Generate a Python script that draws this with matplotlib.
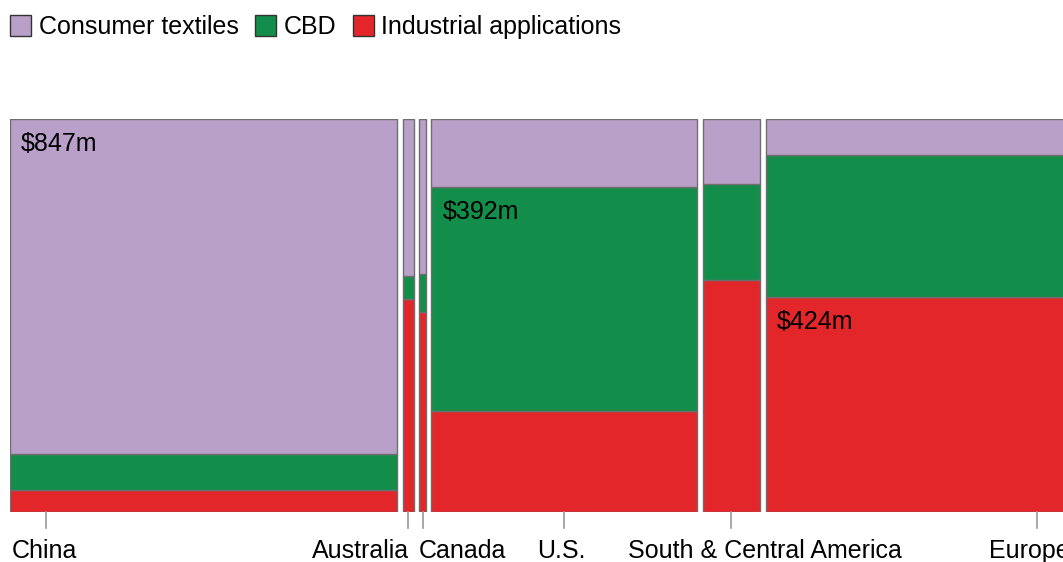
import matplotlib
matplotlib.use("Agg")
import matplotlib.pyplot as plt
from matplotlib.patches import Patch
import matplotlib.transforms as mtransforms

plt.rcParams['font.family'] = ['Liberation Sans', 'DejaVu Sans']

# ---- data ----
regions = ["China", "Australia", "Canada", "U.S.", "South & Central America", "Europe"]
market_m = [994, 28, 17, 683, 146, 775]            # column widths ($m)
consumer_share = [0.852, 0.400, 0.394, 0.173, 0.165, 0.092]
cbd_share = [0.092, 0.059, 0.097, 0.570, 0.244, 0.361]
industrial_share = [0.056, 0.541, 0.509, 0.257, 0.591, 0.547]
series_names = ["Consumer textiles", "CBD", "Industrial applications"]
value_labels = ["$847m", "$392m", "$424m"]
value_label_region = ["China", "U.S.", "Europe"]
value_label_series = ["Consumer textiles", "CBD", "Industrial applications"]

# ---- style ----
colors = {"Consumer textiles": "#b9a0c8", "CBD": "#128e4a", "Industrial applications": "#e2262a"}
edge = "#6e6e6e"
gap = 14.5
tick_frac = [0.093, 0.5, 0.5, 0.5, 0.5, 0.9]
label_ha = ['left', 'right', 'left', 'center', 'center', 'center']
label_dx_px = [-34, 1, -4, -3, 33, -8]
FS = 18

W, H = 1063, 562
fig = plt.figure(figsize=(W / 100, H / 100), dpi=100)
ax_left, ax_right, ax_top, ax_bot = 10, 1063, 119, 512
ax = fig.add_axes([ax_left / W, 1 - ax_bot / H, (ax_right - ax_left) / W, (ax_bot - ax_top) / H])
px_per_m = 387 / market_m[0]
ax.set_xlim(0, (ax_right - ax_left) / px_per_m)
ax.set_ylim(0, 1)
ax.axis('off')

starts = []
x = 0.0
for w in market_m:
    starts.append(x)
    x += w + gap

series_shares = {"Industrial applications": industrial_share, "CBD": cbd_share, "Consumer textiles": consumer_share}
stack_order = ["Industrial applications", "CBD", "Consumer textiles"]
seg_bottom = {}
bottoms = [0.0] * len(regions)
for s in stack_order:
    vals = series_shares[s]
    ax.bar(starts, vals, width=market_m, bottom=bottoms, align='edge',
           color=colors[s], edgecolor=edge, linewidth=1.0)
    for i in range(len(regions)):
        seg_bottom[(regions[i], s)] = (bottoms[i], bottoms[i] + vals[i])
    bottoms = [b + v for b, v in zip(bottoms, vals)]

# value labels at top-left of segments
for txt, reg, ser in zip(value_labels, value_label_region, value_label_series):
    i = regions.index(reg)
    top = seg_bottom[(reg, ser)][1]
    tr = mtransforms.offset_copy(ax.transData, fig=fig, x=11 * 0.72, y=-25 * 0.72, units='points')
    ax.text(starts[i], top, txt, transform=tr, ha='left', va='center', fontsize=FS, color='#000000')

# ticks and region labels
trans = mtransforms.blended_transform_factory(ax.transData, ax.transAxes)
for i, reg in enumerate(regions):
    tx = starts[i] + tick_frac[i] * market_m[i]
    ax.plot([tx, tx], [0, -16 / (ax_bot - ax_top)], transform=trans, color='#9a9a9a',
            linewidth=1.2, clip_on=False)
    tr = mtransforms.offset_copy(trans, fig=fig, x=label_dx_px[i] * 0.72, y=-39 * 0.72, units='points')
    ax.text(tx, 0, reg, transform=tr, ha=label_ha[i], va='center', fontsize=FS, color='#000000',
            clip_on=False)

handles = [Patch(facecolor=colors[s], edgecolor='#333333', linewidth=1.0, label=s) for s in series_names]
fig.legend(handles=handles, loc='upper left', bbox_to_anchor=(0.0, 1 - 5 / H), ncol=3, frameon=False,
           fontsize=FS, handlelength=0.85, handleheight=0.9, handletextpad=0.3, columnspacing=0.65,
           borderaxespad=0.0, borderpad=0.4)

fig.savefig("out.png", dpi=100)
